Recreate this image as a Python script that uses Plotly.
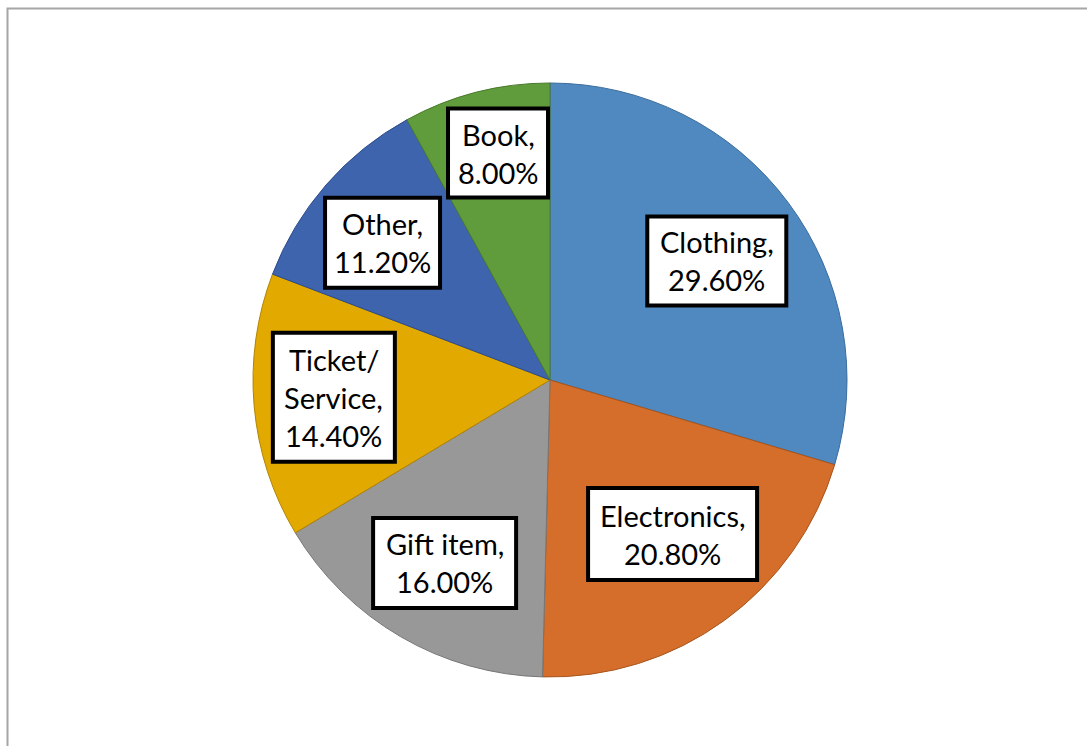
import math
import plotly.graph_objects as go

# Spending share by purchase category (percent), clockwise from 12 o'clock
categories = ["Clothing", "Electronics", "Gift item", "Ticket/ Service", "Other", "Book"]
shares = [29.6, 20.8, 16.0, 14.4, 11.2, 8.0]
label_lines = [
    ["Clothing,", "29.60%"],
    ["Electronics,", "20.80%"],
    ["Gift item,", "16.00%"],
    ["Ticket/", "Service,", "14.40%"],
    ["Other,", "11.20%"],
    ["Book,", "8.00%"],
]

# Styling
slice_colors = ["#5089BF", "#D46E2A", "#989898", "#E2AA00", "#3E64AE", "#609C3C"]
slice_edges = ["#3A6C9C", "#A8541C", "#767676", "#B08400", "#2E4C88", "#4A7A2D"]

W, H = 1087, 746
CX, CY, R = 550, 380, 297          # pie centre and radius, px

# Label-box placement: radial distance (fraction of radius), angle nudge (deg), box size (px)
label_style = {
    "radius": [0.69, 0.663, 0.711, 0.73, 0.729, 0.784],
    "nudge": [1.2, -2.5, -0.3, 0.5, -1.7, 1.5],
    "size": [(139, 89), (169, 92), (143, 90), (122, 129), (115, 90), (100, 89)],
}
LINE_STEP = 38
FONT_SIZE = 29


def px_x(x):
    return x / W


def px_y(y):
    return 1 - y / H


fig = go.Figure(
    go.Pie(
        labels=categories,
        values=shares,
        sort=False,
        direction="clockwise",
        rotation=0,
        textinfo="none",
        hoverinfo="skip",
        showlegend=False,
        marker=dict(colors=slice_colors, line=dict(color=slice_edges, width=1)),
        domain=dict(
            x=[px_x(CX - R), px_x(CX + R)],
            y=[px_y(CY + R), px_y(CY - R)],
        ),
    )
)

shapes = [
    # outer chart frame
    dict(type="rect", xref="paper", yref="paper",
         x0=px_x(7.5), x1=1.02, y0=-0.02, y1=px_y(8.5),
         line=dict(color="#A6A6A6", width=2), fillcolor="rgba(0,0,0,0)", layer="below"),
]
annotations = []

total = sum(shares)
cum = 0.0
for i, v in enumerate(shares):
    mid = (cum + v / 2) / total * 360 + label_style["nudge"][i]
    cum += v
    d = label_style["radius"][i] * R
    cx = CX + d * math.sin(math.radians(mid))
    cy = CY - d * math.cos(math.radians(mid))
    w, h = label_style["size"][i]
    shapes.append(dict(
        type="rect", xref="paper", yref="paper",
        x0=px_x(cx - w / 2), x1=px_x(cx + w / 2),
        y0=px_y(cy + h / 2), y1=px_y(cy - h / 2),
        line=dict(color="black", width=4), fillcolor="white", layer="above",
    ))
    lines = label_lines[i]
    n = len(lines)
    for j, txt in enumerate(lines):
        ly = cy + (j - (n - 1) / 2) * LINE_STEP
        annotations.append(dict(
            text=txt, xref="paper", yref="paper",
            x=px_x(cx), y=px_y(ly), xanchor="center", yanchor="middle",
            showarrow=False, font=dict(family="Lato", size=FONT_SIZE, color="black"),
        ))

fig.update_layout(
    width=W, height=H, autosize=False,
    margin=dict(l=0, r=0, t=0, b=0),
    paper_bgcolor="white", plot_bgcolor="white",
    shapes=shapes, annotations=annotations,
)

fig.write_html("out.html", config={"displayModeBar": False})
